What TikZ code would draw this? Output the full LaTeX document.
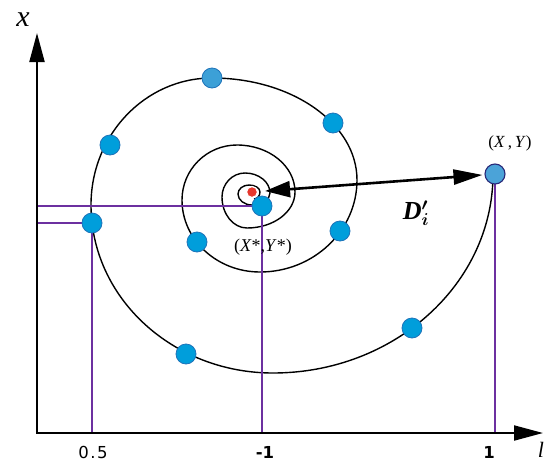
\documentclass[tikz,border=0pt]{standalone}
\usepackage{bm}
\usepackage{fontspec}
\newfontfamily\tnr{Liberation Serif}
\newfontfamily\tickfont{DejaVu Sans}
\usetikzlibrary{arrows.meta}
\definecolor{ptfill}{RGB}{0,158,219}
\definecolor{ptdraw}{RGB}{30,115,185}
\definecolor{ptlight}{RGB}{60,160,215}
\definecolor{xyfill}{RGB}{75,163,216}
\definecolor{xydraw}{RGB}{40,40,120}
\definecolor{guidecol}{RGB}{108,48,160}
\definecolor{redpt}{RGB}{230,55,45}
\tikzset{
  atip/.tip={Triangle[length=29pt,width=15pt]},
  dtipl/.tip={Triangle[length=25pt,width=16pt]},
  dtipr/.tip={Triangle[length=29pt,width=15pt]}
}
\begin{document}
\begin{tikzpicture}[x=1pt,y=-1pt,
  pt/.style={circle,fill=ptfill,draw=ptdraw,line width=0.8pt,minimum size=20pt,inner sep=0pt},
  xypt/.style={circle,fill=xyfill,draw=xydraw,line width=1.1pt,minimum size=20pt,inner sep=0pt},
  guide/.style={draw=guidecol,line width=1.8pt},
  lbl/.style={inner sep=0pt},
  tick/.style={inner sep=0pt,font=\fontsize{16.5}{16.5}\selectfont\tickfont}]
\useasboundingbox (0,0) rectangle (549,461);

% axis coordinates
\coordinate (O) at (37,433);
\coordinate (xtop) at (37,33);
\coordinate (lend) at (543,433);

% guide line coordinates
\coordinate (g1y) at (37,223);
\coordinate (g1x) at (92,433);
\coordinate (g2y) at (37,206);
\coordinate (g2x) at (262,433);
\coordinate (g3x) at (495,433);
\coordinate (c6) at (92,223);
\coordinate (cc) at (262,206);
\coordinate (cxy) at (495,174);

% spiral
\draw[line width=1.4pt]
 (493,174) .. controls (493,284) and (394,373) .. (273,373)
 .. controls (172.5,373) and (91,297.7) .. (91,205)
 .. controls (91,134.9) and (145.2,78) .. (212,78)
 .. controls (292,78) and (357,123.7) .. (357,180)
 .. controls (357,230.8) and (313.5,272) .. (260,272)
 .. controls (217,272) and (182,239.7) .. (182,200)
 .. controls (182,169.6) and (206.6,145) .. (237,145)
 .. controls (269,145) and (295,166) .. (295,192)
 .. controls (295,211.9) and (273.5,228) .. (247,228)
 .. controls (233.2,228) and (222,214.1) .. (222,197)
 .. controls (222,183.8) and (232.3,173) .. (245,173)
 .. controls (258.8,173) and (270,182) .. (270,193)
 .. controls (270,199.6) and (262,205) .. (252,205)
 .. controls (244.3,205) and (238,200) .. (238,194)
 .. controls (238,189) and (243,185) .. (249,185)
 .. controls (255,185) and (260,188) .. (260,192)
 .. controls (260,196) and (257,199) .. (254,199);

% guide lines
\draw[guide] (g2y) -- (cc) -- (g2x);
\draw[guide] (g1y) -- (c6) -- (g1x);
\draw[guide] (cxy) -- (g3x);

% points
\node[pt,fill=ptlight] (p1) at (212,78) {};
\node[pt] (p2) at (333,123) {};
\node[pt] (p3) at (110,145) {};
\node[pt] (p4) at (340,231) {};
\node[pt] (p5) at (197,242) {};
\node[pt] (p6) at (c6) {};
\node[pt] (p7) at (186,354) {};
\node[pt] (p8) at (412,328) {};
\node[pt] (pc) at (cc) {};
\node[circle,fill=redpt,draw=white,line width=1.2pt,minimum size=11pt,inner sep=0pt] (red) at (252,192) {};
\node[xypt] (XY) at (cxy) {};

% axes
\draw[line width=2pt,line join=miter,{atip}-{atip}] (xtop) -- (O) -- (lend);

% distance arrow
\draw[line width=2.6pt,{dtipl}-{dtipr},shorten <=7pt,shorten >=2pt] (red) -- (XY);

% labels
\node[lbl] (xl) at (23,20) {\fontsize{30}{30}\selectfont\tnr\itshape x};
\node[lbl] (ll) at (541,450) {\fontsize{22}{22}\selectfont\tnr\itshape l};
\node[lbl] (xyl) at (510,143) {\fontsize{17}{17}\selectfont\tnr(\textit{X}\,,\,\textit{Y})};
\node[lbl] (csl) at (263,247) {\fontsize{18}{18}\selectfont\tnr(\textit{X}*,\textit{Y}*)};
\node[lbl] (dl) at (416,213) {\fontsize{26}{26}\selectfont{\tnr\bfseries\itshape D}$^{\bm{\prime}}_{\bm{i}}$};
\node[tick] (t05) at (93,452) {0\kern1.5pt.\kern1.5pt5};
\node[tick,font=\fontsize{16.5}{16.5}\selectfont\tickfont\bfseries] (tm1) at (265,452) {-1};
\node[tick,font=\fontsize{16.5}{16.5}\selectfont\tickfont\bfseries] (t1) at (489,452) {1};
\end{tikzpicture}
\end{document}
